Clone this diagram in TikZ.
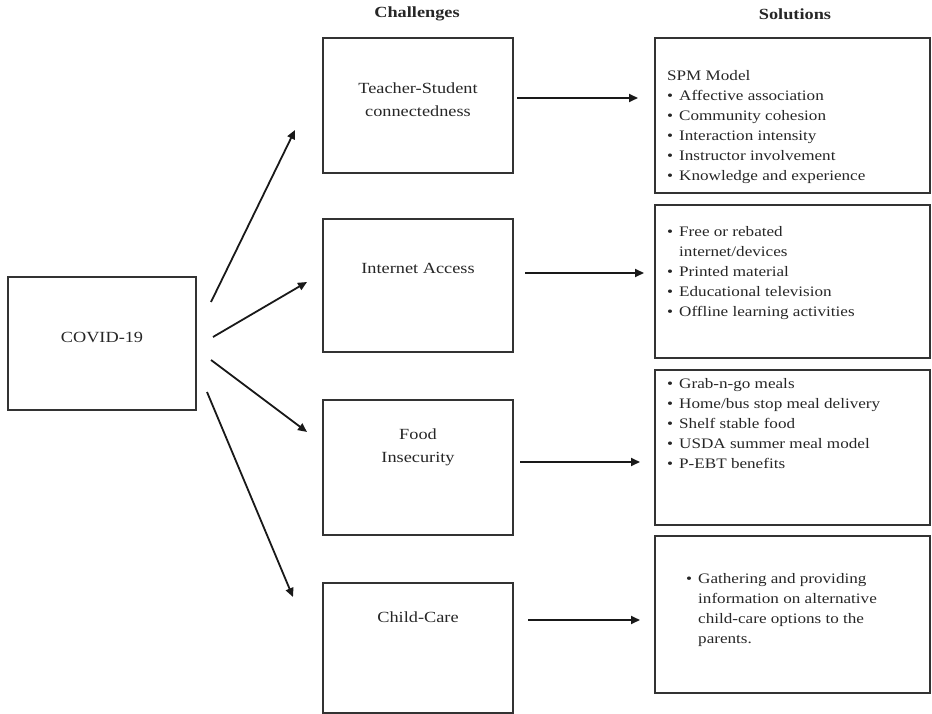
\documentclass[tikz,border=0pt]{standalone}
\usepackage{fontspec}
\setmainfont{Liberation Serif}[FakeStretch=1.18]
\usetikzlibrary{arrows.meta}
\newcommand{\bl}[1]{\makebox[12pt][l]{\textbullet}#1}
\newcommand{\cl}[1]{\hspace*{12pt}#1}
\tikzset{
  box/.style={draw=black!80, line width=1.4pt, rectangle, inner sep=0pt},
  chbox/.style={box, minimum width=190pt},
  solbox/.style={box, minimum width=275pt},
  lbl/.style={align=center, inner sep=0pt, font=\fontsize{15.5}{23}\selectfont, text=black!85},
  soltext/.style={anchor=north west, align=left, inner sep=0pt, font=\fontsize{14.5}{20}\selectfont, text=black!85},
  head/.style={font=\bfseries\fontsize{15.5}{16}\selectfont, text=black!85},
  arr/.style={-{Triangle[length=9pt,width=8pt]}, line width=1.8pt, black!90}
}
\begin{document}
\begin{tikzpicture}[x=1pt,y=-1pt]
\useasboundingbox (0,0) rectangle (932,714);
\node[head] (hc) at (417,14) {Challenges};
\node[head] (hs) at (795,14) {Solutions};
\node[box, minimum width=188pt, minimum height=133pt] (covid) at (102,343.5) {};
\node[lbl] (covidt) at (102,337) {COVID-19};
\node[chbox, minimum height=135pt] (c1) at (418,105.5) {};
\node[lbl] (c1t) at (418,99.5) {Teacher-Student\\connectedness};
\node[chbox, minimum height=133pt] (c2) at (418,285.5) {};
\node[lbl] (c2t) at (418,268) {Internet Access};
\node[chbox, minimum height=135pt] (c3) at (418,467.5) {};
\node[lbl] (c3t) at (418,447) {Food\\Insecurity};
\node[chbox, minimum height=130pt] (c4) at (418,648) {};
\node[lbl] (c4t) at (418,617) {Child-Care};
\node[solbox, minimum height=155pt] (s1) at (792.5,115.5) {};
\node[solbox, minimum height=153pt] (s2) at (792.5,281.5) {};
\node[solbox, minimum height=155pt] (s3) at (792.5,447.5) {};
\node[solbox, minimum height=157pt] (s4) at (792.5,614.5) {};
\node[soltext] (t1) at (667,70) {SPM Model\\\bl{Affective association}\\\bl{Community cohesion}\\\bl{Interaction intensity}\\\bl{Instructor involvement}\\\bl{Knowledge and experience}};
\node[soltext] (t2) at (667,226) {\bl{Free or rebated}\\\cl{internet/devices}\\\bl{Printed material}\\\bl{Educational television}\\\bl{Offline learning activities}};
\node[soltext] (t3) at (667,378) {\bl{Grab-n-go meals}\\\bl{Home/bus stop meal delivery}\\\bl{Shelf stable food}\\\bl{USDA summer meal model}\\\bl{P-EBT benefits}};
\node[soltext] (t4) at (686,573) {\bl{Gathering and providing}\\\cl{information on alternative}\\\cl{child-care options to the}\\\cl{parents.}};
\coordinate (a1s) at (211,302); \coordinate (a1e) at (295,130);
\coordinate (a2s) at (213,337); \coordinate (a2e) at (307,282);
\coordinate (a3s) at (211,360); \coordinate (a3e) at (307,432);
\coordinate (a4s) at (207,392); \coordinate (a4e) at (293,597);
\draw[arr] (a1s) -- (a1e);
\draw[arr] (a2s) -- (a2e);
\draw[arr] (a3s) -- (a3e);
\draw[arr] (a4s) -- (a4e);
\coordinate (b1s) at (517,98); \coordinate (b1e) at (638,98);
\coordinate (b2s) at (525,273); \coordinate (b2e) at (644,273);
\coordinate (b3s) at (520,462); \coordinate (b3e) at (640,462);
\coordinate (b4s) at (528,620); \coordinate (b4e) at (640,620);
\draw[arr] (b1s) -- (b1e);
\draw[arr] (b2s) -- (b2e);
\draw[arr] (b3s) -- (b3e);
\draw[arr] (b4s) -- (b4e);
\end{tikzpicture}
\end{document}
